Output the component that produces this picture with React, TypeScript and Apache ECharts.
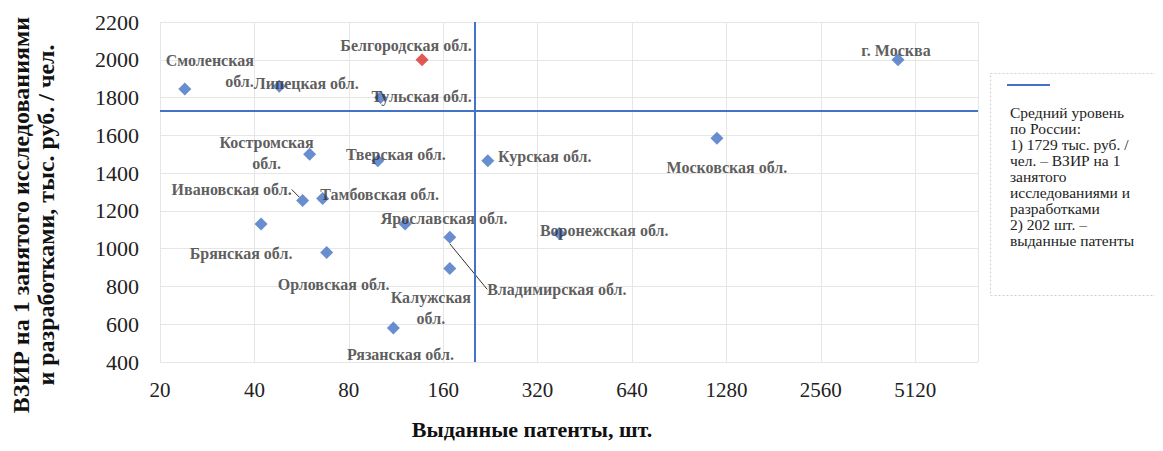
import React, { useEffect, useRef } from "react";
import * as echarts from "echarts";

const REGIONS = [
  "Смоленская обл.",
  "Липецкая обл.",
  "Тульская обл.",
  "Белгородская обл.",
  "Костромская обл.",
  "Тверская обл.",
  "Ивановская обл.",
  "Тамбовская обл.",
  "Брянская обл.",
  "Орловская обл.",
  "Ярославская обл.",
  "Владимирская обл.",
  "Калужская обл.",
  "Рязанская обл.",
  "Курская обл.",
  "Московская обл.",
  "г. Москва",
  "Воронежская обл.",
];
const REGION_LABELS = [
  "Смоленская\nобл.",
  "Липецкая обл.",
  "Тульская обл.",
  "Белгородская обл.",
  "Костромская\nобл.",
  "Тверская обл.",
  "Ивановская обл.",
  "Тамбовская обл.",
  "Брянская обл.",
  "Орловская обл.",
  "Ярославская обл.",
  "Владимирская обл.",
  "Калужская\nобл.",
  "Рязанская обл.",
  "Курская обл.",
  "Московская обл.",
  "г. Москва",
  "Воронежская обл.",
];
// Выданные патенты, шт.
const PATENTS = [24, 48, 101, 137, 60, 99, 57, 66, 42, 68, 121, 168, 168, 111, 222, 1194, 4512, 375];
// ВЗИР на 1 занятого исследованиями и разработками, тыс. руб. / чел.
const VZIR = [1845, 1860, 1800, 2000, 1500, 1465, 1255, 1265, 1130, 980, 1130, 1060, 895, 580, 1465, 1585, 2000, 1080];
const HIGHLIGHT = "Белгородская обл.";

const X_BASE = 20;
const X_MAX = 8120;
const Y_MIN = 400;
const Y_MAX = 2200;
const Y_STEP = 200;

const AVG_PATENTS = 202;
const AVG_VZIR = 1729;

const LEGEND_LINES = [
  "Средний уровень",
  "по России:",
  "1) 1729 тыс. руб. /",
  "чел. – ВЗИР на 1",
  "занятого",
  "исследованиями и",
  "разработками",
  "2) 202 шт. –",
  "выданные патенты",
];

// label placement (pixel offsets from the marker), styling only
const LABEL_OFFSETS: [number, number][] = [
  [69, -18],
  [27, -3],
  [41, -1],
  [-16, -14],
  [-43, -1],
  [18, -6],
  [-71, -11],
  [57, -4],
  [-20, 29],
  [7, 32],
  [39, -6],
  [107, 52],
  [-19, 39],
  [7, 26],
  [57, -4],
  [10, 29],
  [-2, -9],
  [45, -3],
];
const LEADER_LINE = ["Ивановская обл.", "Владимирская обл."];

const BLUE = "#4472C4";
const RED = "#D9302B";
const SERIF = "'Liberation Serif', 'Times New Roman', serif";

export default function App() {
  const ref = useRef<HTMLDivElement>(null);

  useEffect(() => {
    if (!ref.current) return;
    const chart = echarts.init(ref.current, undefined, { renderer: "svg" });

    const data = REGIONS.map((name, i) => ({
      name,
      value: [PATENTS[i] / X_BASE, VZIR[i]],
      itemStyle: name === HIGHLIGHT ? { color: RED } : undefined,
      label: i === 0 ? { align: "right" } : undefined,
      labelLine: LEADER_LINE.includes(name)
        ? { show: true, lineStyle: { color: "#333", width: 1 } }
        : undefined,
    }));

    const option: any = {
      animation: false,
      grid: { left: 152, right: 177, top: 14, bottom: 89, outerBoundsMode: "none", containLabel: false },
      xAxis: {
        type: "log",
        logBase: 2,
        min: 1,
        max: X_MAX / X_BASE,
        splitNumber: 9,
        name: "Выданные патенты, шт.",
        nameLocation: "middle",
        nameGap: 56,
        nameTextStyle: {
          fontFamily: SERIF,
          fontSize: 22,
          fontWeight: "bold",
          color: "#111",
          padding: [0, 74, 0, 0],
        },
        axisLine: { show: false },
        axisTick: { show: false },
        axisLabel: {
          fontFamily: SERIF,
          fontSize: 21,
          color: "#222",
          margin: 17,
          showMaxLabel: false,
          formatter: (v: number) => String(Math.round(v * X_BASE)),
        },
        splitLine: { show: true, lineStyle: { color: "#e6e6e6", width: 1 } },
      },
      yAxis: {
        type: "value",
        min: Y_MIN,
        max: Y_MAX,
        interval: Y_STEP,
        name: "ВЗИР на 1 занятого исследованиями\nи разработками, тыс. руб. / чел.",
        nameLocation: "middle",
        nameGap: 102,
        nameTextStyle: {
          fontFamily: SERIF,
          fontSize: 24,
          fontWeight: "bold",
          color: "#111",
          lineHeight: 25,
          padding: [0, 46, 0, 0],
        },
        axisLine: { show: false },
        axisTick: { show: false },
        axisLabel: {
          fontFamily: SERIF,
          fontSize: 22,
          color: "#222",
          margin: 21,
          formatter: (v: number) => String(v),
        },
        splitLine: { show: true, lineStyle: { color: "#e6e6e6", width: 1 } },
      },
      series: [
        {
          type: "scatter",
          symbol: "diamond",
          symbolSize: 13,
          itemStyle: { color: BLUE },
          data,
          label: {
            show: true,
            position: "inside",
            fontFamily: SERIF,
            fontSize: 16,
            fontWeight: "bold",
            color: "#333",
            lineHeight: 21,
            formatter: (p: any) => REGION_LABELS[p.dataIndex],
          },
          labelLine: { show: false },
          labelLayout: (p: any) => {
            const o = LABEL_OFFSETS[p.dataIndex];
            return { dx: o[0], dy: o[1] };
          },
          markLine: {
            silent: true,
            symbol: ["none", "none"],
            label: { show: false },
            lineStyle: { color: BLUE, width: 2, type: "solid" },
            data: [{ xAxis: AVG_PATENTS / X_BASE }, { yAxis: AVG_VZIR }],
          },
        },
      ],
      graphic: [
        {
          type: "rect",
          left: 982,
          top: 65,
          shape: { width: 168, height: 222 },
          style: { fill: "#fff", stroke: "#cfcfcf", lineWidth: 1, lineDash: [2, 2] },
        },
        {
          type: "line",
          shape: { x1: 999, y1: 77, x2: 1042, y2: 77 },
          style: { stroke: BLUE, lineWidth: 2 },
        },
        {
          type: "text",
          left: 1002,
          top: 96,
          style: {
            text: LEGEND_LINES.join("\n"),
            fontFamily: SERIF,
            fontSize: 15.5,
            lineHeight: 16,
            fill: "#222",
          },
        },
      ],
    };

    chart.setOption(option);
    return () => chart.dispose();
  }, []);

  return <div ref={ref} style={{ width: 1147, height: 443, marginBottom: -8 }} />;
}
